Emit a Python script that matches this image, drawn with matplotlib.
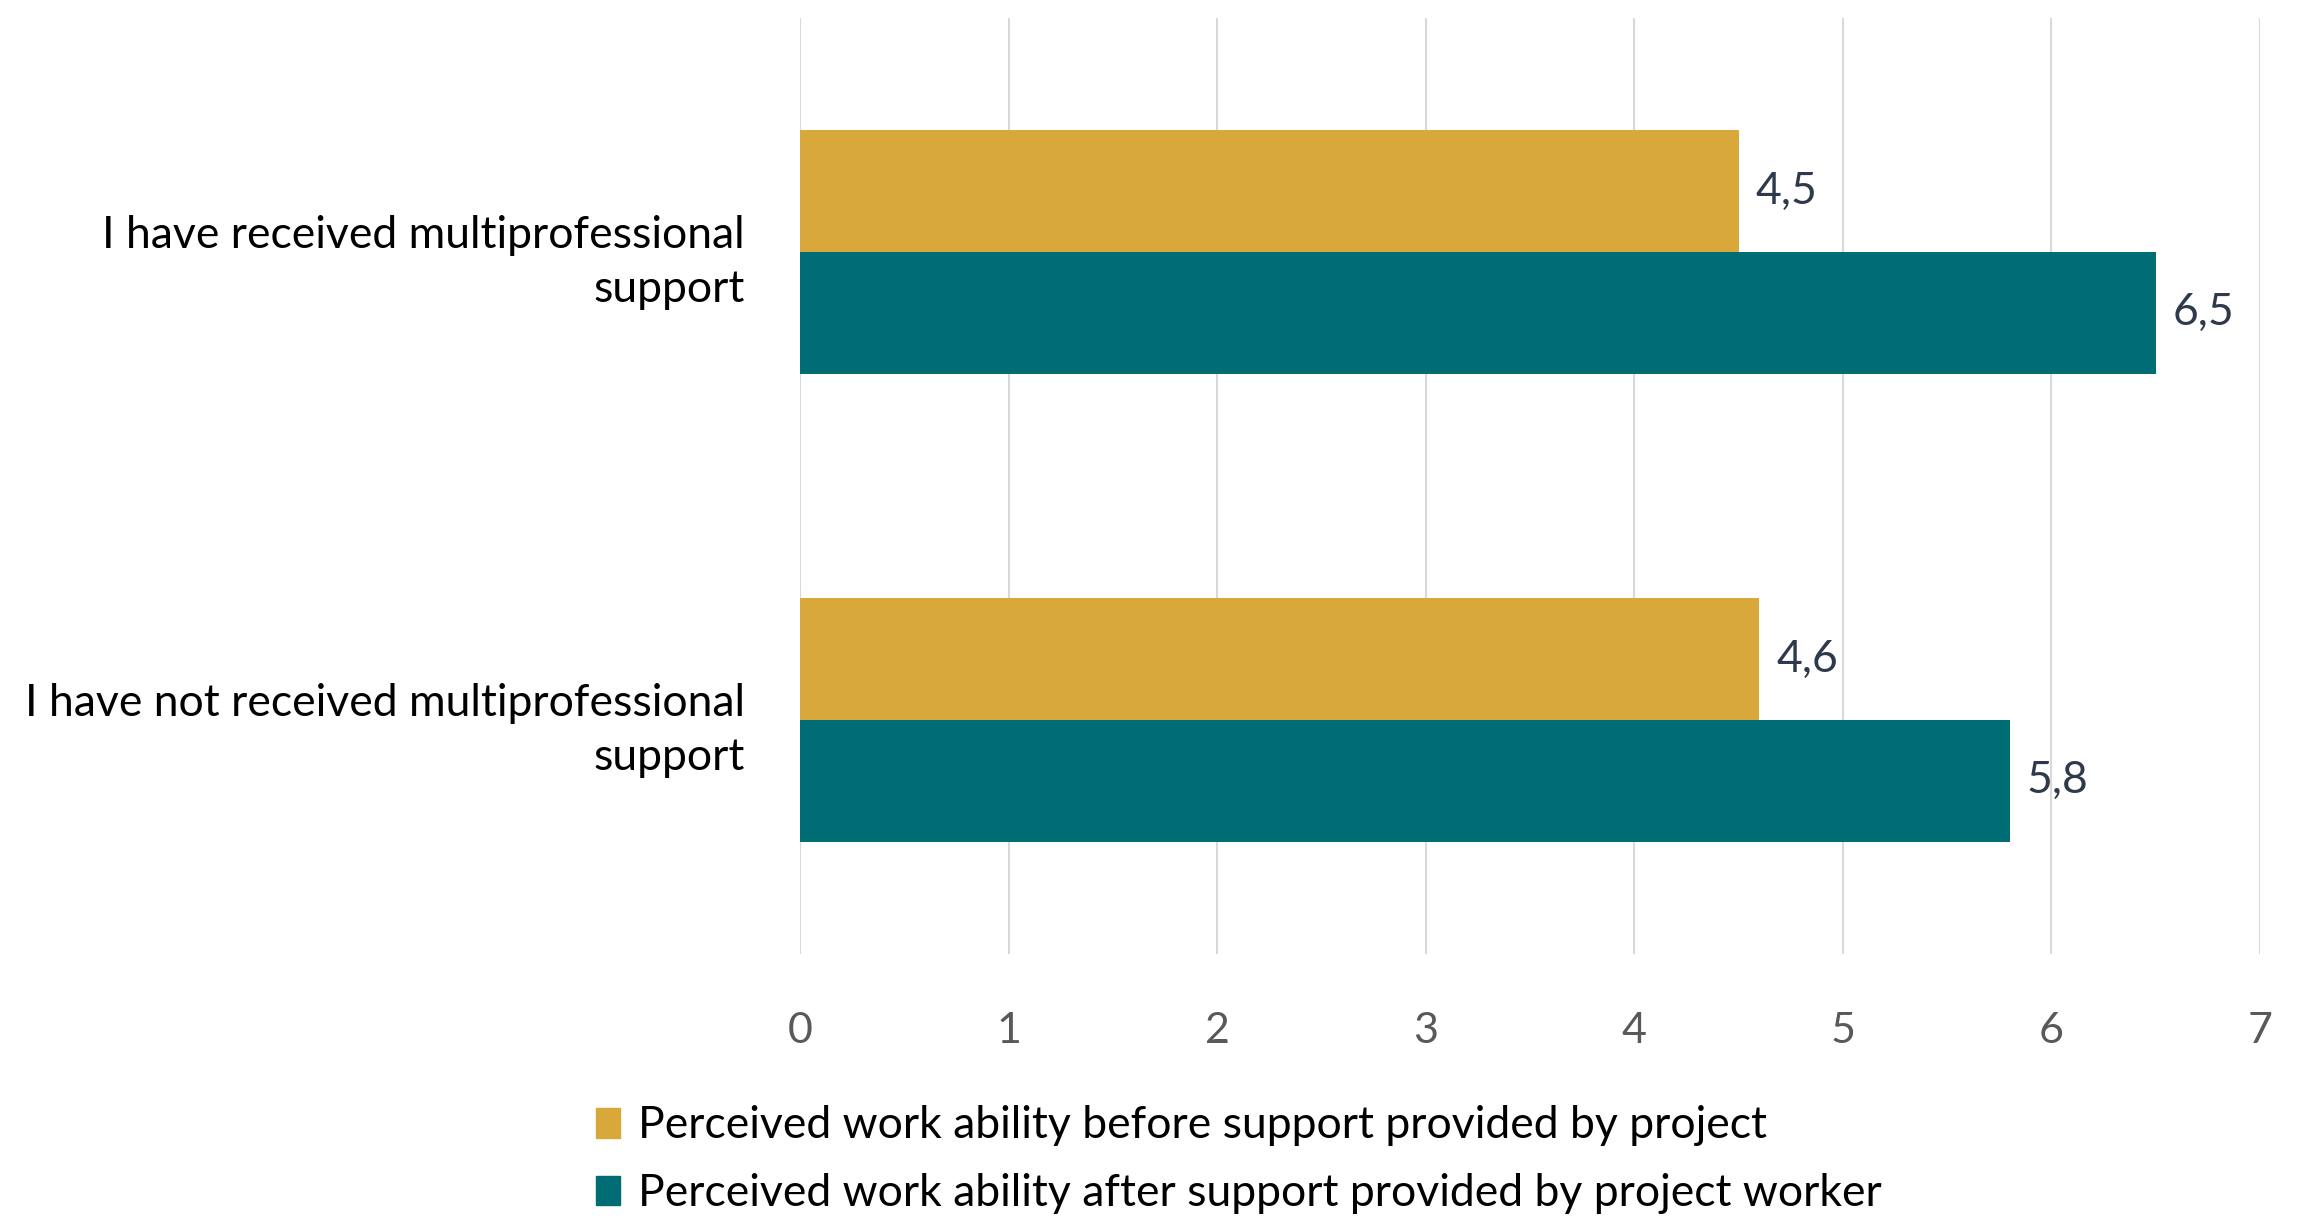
import matplotlib.pyplot as plt
import numpy as np
from matplotlib.patches import Patch

plt.rcParams['font.family'] = ['Lato', 'DejaVu Sans']

# Data
categories = ['I have received multiprofessional\nsupport',
              'I have not received multiprofessional\nsupport']
before = [4.5, 4.6]
after = [6.5, 5.8]
series_names = ['Perceived work ability before support provided by project',
                'Perceived work ability after support provided by project worker']

gold = '#D8A83B'
teal = '#006C73'

fig = plt.figure(figsize=(23.09, 12.16), dpi=100)
ax = fig.add_axes([0.3465, 0.2155, 0.6323, 0.7697])

y = np.arange(len(categories))
h = 0.26
ax.barh(y - h / 2, before, h, color=gold, zorder=3)
ax.barh(y + h / 2, after, h, color=teal, zorder=3)

# value labels with decimal comma
for yi, v in zip(y - h / 2, before):
    ax.text(v + 0.08, yi, f'{v:.1f}'.replace('.', ','), va='center', ha='left',
            fontsize=32, color='#2E3A4B')
for yi, v in zip(y + h / 2, after):
    ax.text(v + 0.08, yi, f'{v:.1f}'.replace('.', ','), va='center', ha='left',
            fontsize=32, color='#2E3A4B')

ax.set_xlim(0, 7)
ax.set_ylim(1.5, -0.5)
ax.set_xticks(range(8))
ax.set_yticks(y)
ax.set_yticklabels(categories, fontsize=32, color='black', linespacing=1.4)
ax.tick_params(axis='y', length=0, pad=40)
ax.tick_params(axis='x', length=0, pad=42, labelsize=31, labelcolor='#595959')
ax.grid(axis='x', color='#D9D9D9', linewidth=1.5, zorder=0)
for s in ax.spines.values():
    s.set_visible(False)

handles = [Patch(color=gold), Patch(color=teal)]
fig.legend(handles, series_names, loc='upper left', bbox_to_anchor=(0.258, 0.091),
           frameon=False, fontsize=32, handlelength=0.55, handleheight=0.65,
           handletextpad=0.4, labelspacing=0.6, borderpad=0, borderaxespad=0)

fig.savefig('out.png', dpi=100)
